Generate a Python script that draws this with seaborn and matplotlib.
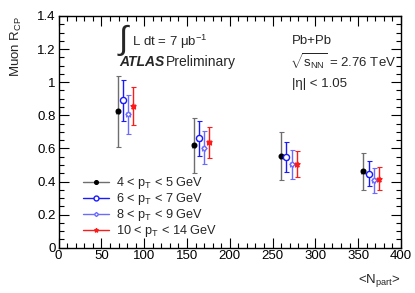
import matplotlib
matplotlib.use("Agg")
import matplotlib.pyplot as plt
from matplotlib.lines import Line2D
from matplotlib.ticker import MultipleLocator
import pandas as pd
import seaborn as sns

SERIES = [r"4 < p$_{\mathrm{T}}$ < 5 GeV", r"6 < p$_{\mathrm{T}}$ < 7 GeV",
          r"8 < p$_{\mathrm{T}}$ < 9 GeV", r"10 < p$_{\mathrm{T}}$ < 14 GeV"]
NPART_BLACK = [68.8, 157.8, 260.4, 355.7]
NPART_BLUE = [75.3, 164.0, 266.2, 362.3]
NPART_LBLUE = [81.2, 169.4, 272.4, 368.0]
NPART_RED = [87.4, 175.6, 278.3, 373.9]
RCP_BLACK = [0.823, 0.620, 0.553, 0.463]
RCP_BLUE = [0.891, 0.660, 0.546, 0.447]
RCP_LBLUE = [0.807, 0.603, 0.503, 0.407]
RCP_RED = [0.857, 0.636, 0.505, 0.417]
ERR_BLACK = [0.215, 0.166, 0.145, 0.112]
ERR_BLUE = [0.123, 0.104, 0.090, 0.074]
ERR_LBLUE = [0.117, 0.100, 0.085, 0.075]
ERR_RED = [0.113, 0.093, 0.080, 0.070]

STYLE = {
    SERIES[0]: dict(color="black", ecolor="#6e6e6e", marker="o", mfc="black", ms=3.3),
    SERIES[1]: dict(color="#1a1aff", ecolor="#1a1aff", marker="o", mfc="white", ms=4.4),
    SERIES[2]: dict(color="#6b6bff", ecolor="#6b6bff", marker="D", mfc="white", ms=2.6),
    SERIES[3]: dict(color="#ff1a1a", ecolor="#ff1a1a", marker="*", mfc="#ff1a1a", ms=3.8),
}

df = pd.concat([
    pd.DataFrame({"npart": NPART_BLACK, "rcp": RCP_BLACK, "err": ERR_BLACK, "series": SERIES[0]}),
    pd.DataFrame({"npart": NPART_BLUE, "rcp": RCP_BLUE, "err": ERR_BLUE, "series": SERIES[1]}),
    pd.DataFrame({"npart": NPART_LBLUE, "rcp": RCP_LBLUE, "err": ERR_LBLUE, "series": SERIES[2]}),
    pd.DataFrame({"npart": NPART_RED, "rcp": RCP_RED, "err": ERR_RED, "series": SERIES[3]}),
])

sns.set_theme(style="ticks")
plt.rcParams["font.family"] = ["Liberation Sans", "DejaVu Sans"]
plt.rcParams["mathtext.fontset"] = "custom"
plt.rcParams["mathtext.rm"] = "Liberation Sans"
plt.rcParams["mathtext.it"] = "Liberation Sans:italic"

fig = plt.figure(figsize=(4.15, 2.93), dpi=100)
ax = fig.add_axes([0.1414, 0.1546, 0.8246, 0.7908])

for name, grp in df.groupby("series", sort=False):
    st = STYLE[name]
    ax.errorbar(grp["npart"], grp["rcp"], yerr=grp["err"], xerr=2.0, fmt="none",
                ecolor=st["ecolor"], elinewidth=1.0, capsize=1.8, capthick=0.8, zorder=2)
    sns.scatterplot(x=grp["npart"], y=grp["rcp"], ax=ax, marker=st["marker"], s=st["ms"] ** 2,
                    facecolor=st["mfc"], edgecolor=st["color"], linewidth=1.0, zorder=3)

ax.set_xlim(0, 400)
ax.set_ylim(0, 1.4)
ax.xaxis.set_major_locator(MultipleLocator(50))
ax.xaxis.set_minor_locator(MultipleLocator(10))
ax.yaxis.set_minor_locator(MultipleLocator(0.05))
ax.set_yticks([0, 0.2, 0.4, 0.6, 0.8, 1.0, 1.2, 1.4])
ax.set_yticklabels(["0", "0.2", "0.4", "0.6", "0.8", "1", "1.2", "1.4"])
ax.tick_params(which="both", direction="in", top=True, right=True, labelsize=9.5, colors="black",
               width=0.8, pad=2)
ax.tick_params(which="major", length=7)
ax.tick_params(which="minor", length=3.5)
for sp in ax.spines.values():
    sp.set_color("black")
    sp.set_linewidth(1.0)

ax.set_xlabel("")
ax.set_ylabel(r"Muon R$_{\mathrm{CP}}$", fontsize=9.5, loc="top", labelpad=10)
fig.text(0.966, 0.015, r"<N$_{\mathrm{part}}$>", fontsize=9.5, ha="right", va="bottom")

fig.text(117 / 415, 1 - 40 / 293, r"$\int$", fontsize=24, ha="left", va="center")
fig.text(132 / 415, 1 - 42 / 293, "L dt = 7 μb$^{-1}$", fontsize=9.5, ha="left", va="center")
fig.text(119 / 415, 1 - 62 / 293, "ATLAS", fontsize=10, fontweight="bold", fontstyle="italic",
         ha="left", va="center")
fig.text(166 / 415, 1 - 62 / 293, "Preliminary", fontsize=10, ha="left", va="center")
fig.text(292 / 415, 1 - 41 / 293, "Pb+Pb", fontsize=9.5, ha="left", va="center")
fig.text(290 / 415, 1 - 62 / 293, r"$\sqrt{\mathrm{s}_{\mathrm{NN}}}$ = 2.76 TeV", fontsize=9.5,
         ha="left", va="center")
fig.text(292 / 415, 1 - 84 / 293, "|η| < 1.05", fontsize=9.5, ha="left", va="center")

handles = []
for name in SERIES:
    st = STYLE[name]
    handles.append(Line2D([0], [0], color=st["ecolor"], lw=1.0, marker=st["marker"], ms=st["ms"] * 0.8,
                          mfc=st["mfc"], mec=st["color"]))
leg = ax.legend(handles, SERIES, loc="upper left", bbox_to_anchor=(0.055, 0.335), frameon=False,
                fontsize=9.2, handlelength=2.1, handletextpad=0.5, labelspacing=0.0, borderaxespad=0)

fig.savefig("out.png", dpi=100)
